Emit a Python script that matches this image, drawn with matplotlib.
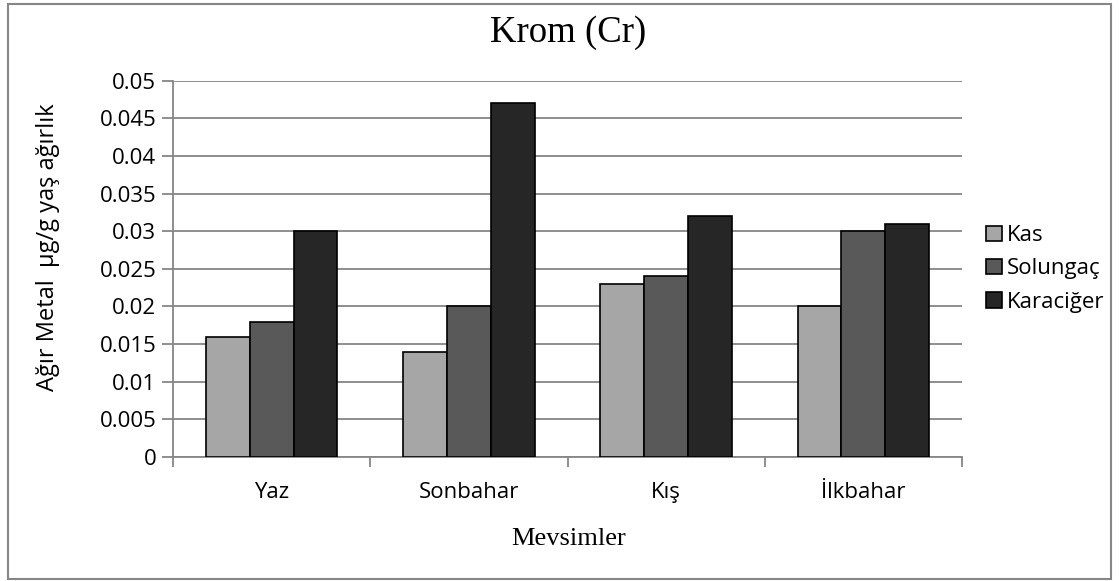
import matplotlib.pyplot as plt
import matplotlib.patches as mpatches
import numpy as np

seasons = ['Yaz', 'Sonbahar', 'Kış', 'İlkbahar']
tissues = ['Kas', 'Solungaç', 'Karaciğer']
kas = [0.016, 0.014, 0.023, 0.020]
solungac = [0.018, 0.020, 0.024, 0.030]
karaciger = [0.030, 0.047, 0.032, 0.031]
colors = ['#a6a6a6', '#595959', '#262626']

sans = 'Open Sans'
serif = 'Liberation Serif'
grid_col = '#868686'

fig = plt.figure(figsize=(11.19, 5.81), dpi=100)
ax = fig.add_axes([0.1546, 0.2134, 0.7051, 0.6477])

x = np.arange(len(seasons))
w = 1 / 4.5
for i, (vals, name) in enumerate(zip([kas, solungac, karaciger], tissues)):
    ax.bar(x + (i - 1) * w, vals, width=w, color=colors[i], edgecolor='black',
           linewidth=1.2, label=name, zorder=3)

ax.set_xlim(-0.5, len(seasons) - 0.5)
ax.set_ylim(0, 0.05)
yt = np.arange(0, 0.0501, 0.005)
ax.set_yticks(yt)
ax.set_yticklabels(['0' if v == 0 else f'{v:.3f}'.rstrip('0') for v in yt],
                   fontfamily=sans, fontsize=16)
ax.yaxis.grid(True, color=grid_col, linewidth=1.3, zorder=0)
ax.tick_params(axis='y', length=8, color=grid_col, width=1.3, pad=4)

ax.set_xticks(x)
ax.set_xticklabels(seasons, fontfamily=sans, fontsize=16)
ax.set_xticks(np.arange(-0.5, len(seasons)), minor=True)
ax.tick_params(axis='x', which='major', length=0, pad=18)
ax.tick_params(axis='x', which='minor', length=7, color=grid_col, width=1.3)

for side in ['top', 'right']:
    ax.spines[side].set_visible(False)
for side in ['left', 'bottom']:
    ax.spines[side].set_color(grid_col)
    ax.spines[side].set_linewidth(1.3)

fig.text(0.043, 0.575, 'Ağır Metal  µg/g yaş ağırlık', fontfamily=sans,
         fontsize=17, rotation=90, ha='center', va='center')
fig.text(0.508, 0.943, 'Krom (Cr)', fontfamily=serif, fontsize=26.5,
         ha='center', va='center')
fig.text(0.508, 0.072, 'Mevsimler', fontfamily=serif, fontsize=19,
         ha='center', va='center')

leg = ax.legend(loc='center left', bbox_to_anchor=(1.005, 0.5), frameon=False,
                prop={'family': sans, 'size': 16}, handlelength=0.7,
                handleheight=0.7, handletextpad=0.25, labelspacing=0.55)

fig.patches.append(mpatches.Rectangle((0.007, 0.004), 0.986, 0.989,
                                      transform=fig.transFigure, fill=False,
                                      edgecolor=grid_col, linewidth=1.5))

fig.savefig('out.png', dpi=100)
